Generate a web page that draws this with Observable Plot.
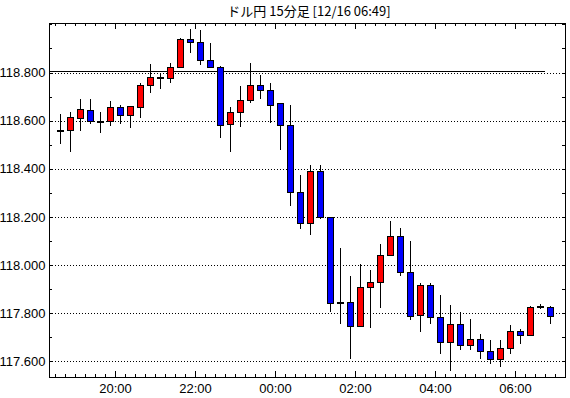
<!DOCTYPE html>
<html><head><meta charset="utf-8">
<script src="https://cdn.jsdelivr.net/npm/d3@7"></script>
<script src="https://cdn.jsdelivr.net/npm/@observablehq/plot@0.6"></script>
<style>
html,body{margin:0;padding:0;background:#fff}
body{width:570px;height:398px;overflow:hidden}
#title{height:22px;line-height:22px;font-family:"Noto Sans CJK JP",sans-serif;font-size:13px;text-align:center;padding-left:53px;width:512px;color:#000;white-space:nowrap}
</style></head><body>
<div id="title">ドル円 15分足 [12/16 06:49]</div>
<div id="chart"></div>
<script>
// 15-minute candle start times (12/15 evening to 12/16 morning)
const times = ["18:30","18:45","19:00","19:15","19:30","19:45","20:00","20:15","20:30","20:45",
  "21:00","21:15","21:30","21:45","22:00","22:15","22:30","22:45","23:00","23:15",
  "23:30","23:45","00:00","00:15","00:30","00:45","01:00","01:15","01:30","01:45",
  "02:00","02:15","02:30","02:45","03:00","03:15","03:30","03:45","04:00","04:15",
  "04:30","04:45","05:00","05:15","05:30","05:45","06:00","06:15","06:30","06:45"];
const open = [118.560,118.557,118.610,118.642,118.597,118.595,118.653,118.622,118.656,118.745,
  118.778,118.774,118.820,118.936,118.924,118.849,118.820,118.586,118.632,118.682,
  118.745,118.724,118.670,118.580,118.303,118.174,118.390,118.199,117.844,117.845,
  117.743,117.907,117.926,118.040,118.120,117.970,117.790,117.915,117.782,117.678,
  117.753,117.665,117.690,117.640,117.607,117.653,117.724,117.707,117.826,117.824];
const high = [118.629,118.638,118.692,118.688,118.638,118.683,118.667,118.658,118.758,118.835,
  118.792,118.838,118.945,118.983,118.975,118.921,118.829,118.657,118.742,118.838,
  118.788,118.758,118.671,118.665,118.375,118.417,118.417,118.200,118.071,117.954,
  118.004,117.979,118.088,118.183,118.153,118.100,117.925,117.925,117.875,117.833,
  117.803,117.776,117.714,117.688,117.688,117.750,117.732,117.829,117.836,117.828];
const low = [118.502,118.468,118.555,118.585,118.547,118.579,118.588,118.568,118.613,118.714,
  118.730,118.755,118.818,118.880,118.830,118.818,118.526,118.468,118.572,118.675,
  118.688,118.589,118.476,118.243,118.151,118.126,118.193,117.804,117.755,117.610,
  117.742,117.739,117.822,118.039,117.955,117.772,117.722,117.755,117.630,117.560,
  117.645,117.645,117.607,117.590,117.574,117.630,117.672,117.703,117.815,117.753];
const close = [118.556,118.611,118.646,118.595,118.593,118.653,118.622,118.657,118.745,118.779,
  118.774,118.820,118.936,118.924,118.849,118.820,118.580,118.632,118.683,118.745,
  118.724,118.664,118.580,118.303,118.174,118.390,118.199,117.840,117.840,117.743,
  117.907,117.928,118.040,118.120,117.970,117.786,117.915,117.782,117.678,117.753,
  117.665,117.690,117.640,117.607,117.653,117.724,117.707,117.824,117.822,117.786];

const yTickValues = [117.6,117.8,118.0,118.2,118.4,118.6,118.8];
const yMinorValues = [117.6,117.7,117.8,117.9,118.0,118.1,118.2,118.3,118.4,118.5,118.6,118.7,118.8,118.9,119.0];
const xTickLabels = ["20:00","22:00","00:00","02:00","04:00","06:00"];
const refLevel = 118.808;

function toDate(hm){
  const [h,m] = hm.split(":").map(Number);
  const day = h >= 12 ? 15 : 16;
  return new Date(Date.UTC(2016, 11, day, h, m));
}
const MIN = 60000;
const data = times.map((t,i)=>{
  const d = toDate(t);
  return {t:d, mid:new Date(+d + 7.5*MIN), bx1:new Date(+d + 3*MIN), bx2:new Date(+d + 12*MIN),
    open:open[i], high:high[i], low:low[i], close:close[i]};
});
const xmin = toDate("18:21"), xmax = toDate("07:15");
const refEnd = toDate("06:45");
const ymin = 117.534, ymax = 119.006;
const majorDates = xTickLabels.map(toDate);
const minorDates = d3.utcMinute.every(15).range(toDate("18:30"), toDate("07:15"));
const pxX = 516/((+xmax - +xmin)/MIN); // px per minute
const pxY = 354/(ymax-ymin);
const yTickLen = 3/pxX*MIN;

const chart = Plot.plot({
  width:570, height:376,
  marginLeft:49, marginRight:5, marginTop:1, marginBottom:21,
  x:{type:"utc", domain:[xmin,xmax], axis:null},
  y:{domain:[ymin,ymax], axis:null},
  style:{fontFamily:"'Liberation Sans Narrow','Liberation Sans',sans-serif", fontSize:"13px", color:"#000", background:"#fff"},
  marks:[
    Plot.ruleY(yTickValues, {stroke:"#000", strokeDasharray:"1,2", shapeRendering:"crispEdges"}),
    Plot.ruleY([refLevel], {x1:()=>xmin, x2:()=>refEnd, stroke:"#000", strokeWidth:1, shapeRendering:"crispEdges"}),
    Plot.ruleX(data, {x:"mid", y1:"low", y2:"high", stroke:"#000", strokeWidth:1, shapeRendering:"crispEdges"}),
    Plot.rect(data, {x1:"bx1", x2:"bx2", y1:"open", y2:"close",
      fill:d=> Math.abs(d.close-d.open) < 0.005 ? "#000" : (d.close > d.open ? "#ff0000" : "#0000ff"),
      stroke:"#000", strokeWidth:1, shapeRendering:"crispEdges"}),
    Plot.ruleY(yMinorValues, {x1:()=>xmin, x2:()=>new Date(+xmin + yTickLen), stroke:"#000", shapeRendering:"crispEdges"}),
    Plot.ruleY(yMinorValues, {x1:()=>new Date(+xmax - yTickLen), x2:()=>xmax, stroke:"#000", shapeRendering:"crispEdges"}),
    Plot.ruleX(minorDates, {y1:ymin, y2:ymin + 3/pxY, stroke:"#000", shapeRendering:"crispEdges"}),
    Plot.ruleX(minorDates, {y1:ymax - 3/pxY, y2:ymax, stroke:"#000", shapeRendering:"crispEdges"}),
    Plot.ruleX(majorDates, {y1:ymin, y2:ymin + 6/pxY, stroke:"#000", shapeRendering:"crispEdges"}),
    Plot.ruleX(majorDates, {y1:ymax - 6/pxY, y2:ymax, stroke:"#000", shapeRendering:"crispEdges"}),
    Plot.axisY(yTickValues, {anchor:"left", tickSize:0, tickPadding:4, tickFormat:d=>d.toFixed(3)}),
    Plot.axisX(majorDates, {anchor:"bottom", tickSize:0, tickPadding:6, tickFormat:(d,i)=>xTickLabels[i]}),
    Plot.frame({stroke:"#000", shapeRendering:"crispEdges"})
  ]
});
document.getElementById("chart").appendChild(chart);
</script>
</body></html>
